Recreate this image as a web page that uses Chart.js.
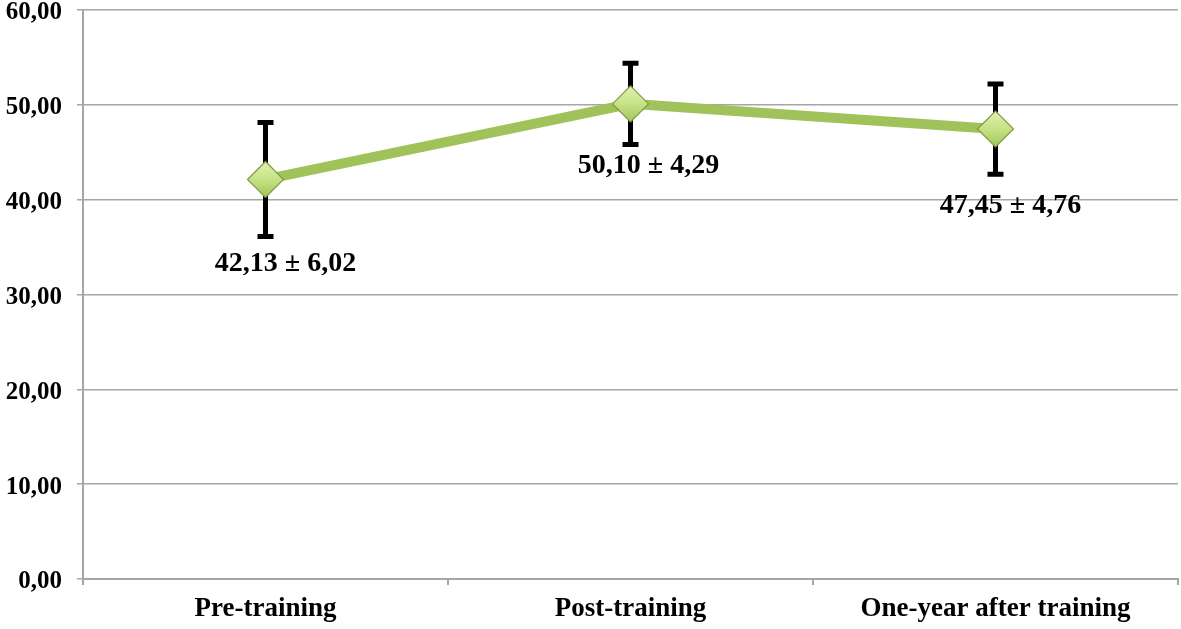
<!DOCTYPE html>
<html>
<head>
<meta charset="utf-8">
<script src="https://cdn.jsdelivr.net/npm/chart.js@4.4.0/dist/chart.umd.min.js"></script>
<style>
  html, body { margin: 0; padding: 0; background: #fff; }
  #wrap { width: 1181px; height: 629px; }
</style>
</head>
<body>
<div id="wrap"><canvas id="grafico"></canvas></div>
<script>
const categorias = ['Pre-training', 'Post-training', 'One-year after training'];
const medias = [42.13, 50.10, 47.45];
const desvios = [6.02, 4.29, 4.76];
const etiquetas = ['42,13 ± 6,02', '50,10 ± 4,29', '47,45 ± 4,76'];
const ticksY = [0, 10, 20, 30, 40, 50, 60];

const serif = "'Liberation Serif', 'Times New Roman', serif";

// barras de error detras de los marcadores
const barrasError = {
    id: 'barrasError',
    beforeDatasetsDraw(chart) {
        const ctx = chart.ctx;
        const x = chart.scales.x, y = chart.scales.y;
        ctx.save();
        ctx.strokeStyle = '#000';
        ctx.lineWidth = 5;
        ctx.lineCap = 'butt';
        medias.forEach((m, i) => {
            const px = x.getPixelForValue(i);
            const top = y.getPixelForValue(m + desvios[i]);
            const bot = y.getPixelForValue(m - desvios[i]);
            ctx.beginPath();
            ctx.moveTo(px, top); ctx.lineTo(px, bot);
            ctx.moveTo(px - 8, top); ctx.lineTo(px + 8, top);
            ctx.moveTo(px - 8, bot); ctx.lineTo(px + 8, bot);
            ctx.stroke();
        });
        ctx.restore();
    }
};

// texto "media ± desvio" debajo de cada punto
const textos = {
    id: 'textos',
    afterDatasetsDraw(chart, args, opts) {
        const ctx = chart.ctx;
        const x = chart.scales.x, y = chart.scales.y;
        ctx.save();
        ctx.font = 'bold 28px ' + serif;
        ctx.fillStyle = '#000';
        ctx.textAlign = 'center';
        ctx.textBaseline = 'middle';
        etiquetas.forEach((t, i) => {
            const off = opts.offsets[i];
            ctx.fillText(t, x.getPixelForValue(i) + off[0], y.getPixelForValue(medias[i]) + off[1]);
        });
        ctx.restore();
    }
};

function sinPadding(scale) {
    scale.paddingTop = 0;
    scale.paddingBottom = 0;
    scale.paddingLeft = 0;
    scale.paddingRight = 0;
}

// degradado del rombo segun la posicion del punto
function rellenoRombo(context) {
    const chart = context.chart;
    const y = chart.scales && chart.scales.y;
    if (!y || context.dataIndex === undefined) return '#c5df8a';
    const py = y.getPixelForValue(medias[context.dataIndex]);
    if (!isFinite(py)) return '#c5df8a';
    const g = chart.ctx.createLinearGradient(0, py - 18, 0, py + 18);
    g.addColorStop(0, '#e2f1b4');
    g.addColorStop(0.5, '#c6e285');
    g.addColorStop(1, '#a3c65a');
    return g;
}

const ctx = document.getElementById('grafico').getContext('2d');
new Chart(ctx, {
    type: 'line',
    data: {
        labels: categorias,
        datasets: [{
            data: medias,
            borderColor: '#a0c25a',
            borderWidth: 10,
            pointStyle: 'rectRot',
            pointRadius: 18,
            pointHoverRadius: 18,
            pointBackgroundColor: rellenoRombo,
            pointBorderColor: '#7f9c45',
            pointBorderWidth: 1.2,
            tension: 0,
            clip: false
        }]
    },
    options: {
        responsive: true,
        maintainAspectRatio: false,
        animation: false,
        layout: { autoPadding: false, padding: { top: 10, right: 3, left: 0, bottom: 0 } },
        plugins: {
            legend: { display: false },
            tooltip: { enabled: false },
            textos: { offsets: [[20, 84], [18, 62], [15, 77]] }
        },
        scales: {
            x: {
                offset: true,
                grid: { display: true, drawOnChartArea: false, color: '#a6a6a6', lineWidth: 2, tickLength: 6, offset: true },
                border: { color: '#a6a6a6', width: 2 },
                ticks: { color: '#000', padding: 8, font: { family: serif, size: 27, weight: 'bold' } },
                afterFit(scale) { scale.height = 50; sinPadding(scale); }
            },
            y: {
                min: 0,
                max: 60,
                afterBuildTicks(scale) { scale.ticks = ticksY.map(v => ({ value: v })); },
                grid: { color: '#a6a6a6', lineWidth: 1.5, tickLength: 6 },
                border: { color: '#a6a6a6', width: 2 },
                ticks: {
                    color: '#000',
                    padding: 15,
                    labelOffset: 3,
                    font: { family: serif, size: 25, weight: 'bold' },
                    callback: v => v.toFixed(2).replace('.', ',')
                },
                afterFit(scale) { scale.width = 83; sinPadding(scale); }
            }
        }
    },
    plugins: [barrasError, textos]
});
</script>
</body>
</html>
